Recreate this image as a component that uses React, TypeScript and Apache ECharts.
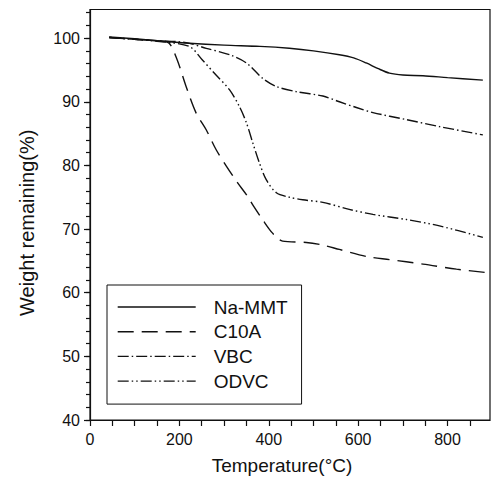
import React, { useEffect, useRef } from "react";
import * as echarts from "echarts";

const seriesNames = ["Na-MMT", "C10A", "VBC", "ODVC"];

const naMmt: [number, number][] = [
  [43, 100.2], [100, 99.9], [150, 99.6], [222, 99.2], [300, 98.9], [380, 98.7],
  [446, 98.4], [500, 98.0], [558, 97.4], [590, 96.9], [618, 96.1], [645, 95.2],
  [670, 94.5], [700, 94.2], [745, 94.1], [800, 93.8], [879, 93.4],
];

const c10a: [number, number][] = [
  [43, 100.1], [100, 99.8], [150, 99.6], [177, 99.2], [195, 96.6], [215, 92.4],
  [237, 88.3], [260, 85.6], [282, 82.5], [305, 79.9], [330, 77.3], [352, 75.2],
  [366, 73.6], [386, 71.5], [408, 69.4], [431, 68.1], [484, 67.9], [520, 67.5],
  [558, 66.8], [618, 65.7], [670, 65.2], [745, 64.5], [820, 63.7], [883, 63.2],
];

const vbc: [number, number][] = [
  [43, 100.1], [150, 99.6], [215, 99.3], [260, 98.4], [312, 97.4], [350, 96.1],
  [386, 93.7], [417, 92.4], [461, 91.6], [521, 90.9], [558, 90.0], [596, 89.1],
  [633, 88.3], [708, 87.2], [782, 86.1], [879, 84.8],
];

const odvc: [number, number][] = [
  [43, 100.1], [150, 99.5], [222, 98.7], [251, 96.6], [282, 94.2], [312, 91.9],
  [334, 89.3], [350, 86.7], [364, 83.6], [379, 80.4], [394, 77.8], [417, 75.7],
  [446, 75.0], [476, 74.6], [521, 74.2], [580, 73.1], [633, 72.3], [708, 71.5],
  [782, 70.5], [879, 68.7],
];

const xMajorTicks = [0, 50, 100, 150, 200, 250, 300, 350, 400, 450, 500, 550, 600, 650, 700, 750, 800, 850];
const xTickLabels = [0, 200, 400, 600, 800];
const yTickLabels = [40, 50, 60, 70, 80, 90, 100];
const yMinorTicks = [40, 42, 44, 46, 48, 50, 52, 54, 56, 58, 60, 62, 64, 66, 68, 70, 72, 74, 76, 78, 80, 82, 84, 86, 88, 90, 92, 94, 96, 98, 100, 102, 104];

const FONT = "'Liberation Sans', Arial, Helvetica, sans-serif";
const INK = "#111";

export default function App() {
  const ref = useRef<HTMLDivElement>(null);
  useEffect(() => {
    if (!ref.current) return;
    const chart = echarts.init(ref.current, null, { renderer: "svg" });
    const dashes: any[] = ["solid", [16, 8], [11, 3, 1.5, 3], [11, 3, 1.5, 3, 1.5, 3]];
    const datas = [naMmt, c10a, vbc, odvc];
    chart.setOption({
      animation: false,
      backgroundColor: "#fff",
      textStyle: { fontFamily: FONT, color: INK },
      grid: {
        left: 90, top: 9.5, right: 2, bottom: 59,
        show: true, borderColor: INK, borderWidth: 1.2, backgroundColor: "transparent",
      },
      legend: {
        orient: "vertical",
        left: 107,
        top: 285,
        data: seriesNames,
        borderColor: INK,
        borderWidth: 1,
        padding: [12, 14, 13, 10],
        itemWidth: 78,
        itemHeight: 20,
        itemGap: 4.7,
        itemStyle: { opacity: 0 },
        lineStyle: { width: 1.4 },
        textStyle: { fontSize: 19, fontFamily: FONT, color: INK, padding: [0, 0, 0, 13], lineHeight: 20 },
      },
      xAxis: {
        type: "value",
        min: 0,
        max: 895,
        name: "Temperature(\u00b0C)",
        nameLocation: "middle",
        nameGap: 36,
        nameTextStyle: { fontSize: 19, color: INK, fontFamily: FONT, padding: [0, 16, 0, 0] },
        axisLine: { show: true, lineStyle: { color: INK, width: 1.2 } },
        axisTick: { show: true, inside: false, length: 6, customValues: xMajorTicks, lineStyle: { color: INK, width: 1.2 } },
        axisLabel: { fontSize: 16, color: INK, margin: 11, customValues: xTickLabels, fontFamily: FONT },
        splitLine: { show: false },
      },
      yAxis: [
        {
          type: "value",
          min: 40,
          max: 104.5,
          name: "Weight remaining(%)",
          nameLocation: "middle",
          nameGap: 53,
          nameTextStyle: { fontSize: 20, color: INK, fontFamily: FONT, padding: [0, 16, 0, 0] },
          axisLine: { show: true, lineStyle: { color: INK, width: 1.2 } },
          axisTick: { show: true, inside: false, length: 6, customValues: yTickLabels, lineStyle: { color: INK, width: 1.2 } },
          axisLabel: { fontSize: 16, color: INK, margin: 10, customValues: yTickLabels, fontFamily: FONT },
          splitLine: { show: false },
        },
        {
          type: "value",
          min: 40,
          max: 104.5,
          position: "left",
          axisLine: { show: false },
          axisTick: { show: true, inside: false, length: 4, customValues: yMinorTicks, lineStyle: { color: INK, width: 1.2 } },
          axisLabel: { show: false },
          splitLine: { show: false },
        },
      ],
      series: seriesNames.map((name, i) => ({
        name,
        type: "line",
        data: datas[i],
        yAxisIndex: 0,
        smooth: 0.3,
        symbol: "none",
        showSymbol: false,
        lineStyle: { color: INK, width: 1.4, type: dashes[i] },
        itemStyle: { color: INK },
      })),
    });
    return () => chart.dispose();
  }, []);
  return (
    <div
      ref={ref}
      style={{ position: "absolute", left: 0, top: 0, width: 492, height: 480, background: "#fff" }}
    />
  );
}
